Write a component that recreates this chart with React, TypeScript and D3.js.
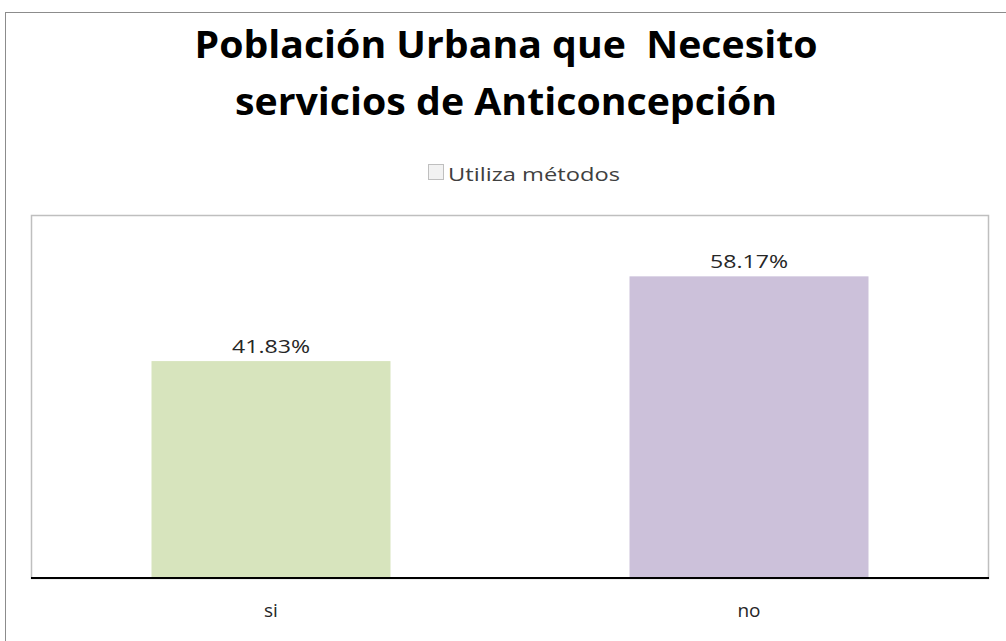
import React from "react";
import * as d3 from "d3";

const categories = ["si", "no"];
const values = [41.83, 58.17];
const barColors = ["#d7e4bd", "#ccc1da"];
const titleLines = ["Población Urbana que  Necesito", "servicios de Anticoncepción"];
const legendLabel = "Utiliza métodos";
const yMax = 70;

const W = 1006;
const H = 641;
const plot = { left: 32, right: 988, top: 215, bottom: 578 };
const FONT = "'Open Sans', 'Noto Sans', sans-serif";

export default function App() {
  const x = d3
    .scaleBand<string>()
    .domain(categories)
    .range([plot.left, plot.right])
    .paddingInner(0.5)
    .paddingOuter(0.25);
  const y = d3.scaleLinear().domain([0, yMax]).range([plot.bottom, plot.top]);

  return (
    <svg
      width={W}
      height={H}
      style={{ position: "absolute", left: 0, top: 0, background: "#fff" }}
    >
      <rect x={0} y={0} width={W} height={H} fill="#fff" />
      {/* outer chart border */}
      <rect x={5.5} y={12.5} width={W + 10} height={H + 10} fill="none" stroke="#8c8c8c" strokeWidth={1} />
      {/* title */}
      <text x={506} y={58} textAnchor="middle" fontFamily={FONT} fontWeight={700} fontSize={38} fill="#000" textLength={623} lengthAdjust="spacingAndGlyphs" style={{ whiteSpace: "pre" }}>
        {titleLines[0]}
      </text>
      <text x={506} y={115} textAnchor="middle" fontFamily={FONT} fontWeight={700} fontSize={38} fill="#000" textLength={542} lengthAdjust="spacingAndGlyphs">
        {titleLines[1]}
      </text>
      {/* legend */}
      <rect x={428.5} y={164.5} width={15} height={15} fill="#f2f2f2" stroke="#bfbfbf" strokeWidth={1} />
      <text x={448} y={181} fontFamily={FONT} fontSize={18} fill="#404040" textLength={172} lengthAdjust="spacingAndGlyphs">
        {legendLabel}
      </text>
      {/* plot area */}
      <rect
        x={plot.left - 0.5}
        y={plot.top + 0.5}
        width={plot.right - plot.left + 1}
        height={plot.bottom - plot.top}
        fill="#fff"
        stroke="#bfbfbf"
        strokeWidth={1.5}
      />
      {categories.map((c, i) => (
        <g key={c}>
          <rect
            x={x(c)!}
            y={y(values[i])}
            width={x.bandwidth()}
            height={plot.bottom - y(values[i])}
            fill={barColors[i]}
          />
          <text
            x={x(c)! + x.bandwidth() / 2}
            y={y(values[i]) - 8}
            textAnchor="middle"
            fontFamily={FONT}
            fontSize={19}
            fill="#262626"
            textLength={78}
            lengthAdjust="spacingAndGlyphs"
          >
            {values[i].toFixed(2) + "%"}
          </text>
          <text
            x={x(c)! + x.bandwidth() / 2}
            y={617}
            textAnchor="middle"
            fontFamily={FONT}
            fontSize={19}
            fill="#262626"
          >
            {c}
          </text>
        </g>
      ))}
      {/* x axis line */}
      <line x1={plot.left - 1} x2={plot.right + 1} y1={plot.bottom} y2={plot.bottom} stroke="#000" strokeWidth={2} />
    </svg>
  );
}
